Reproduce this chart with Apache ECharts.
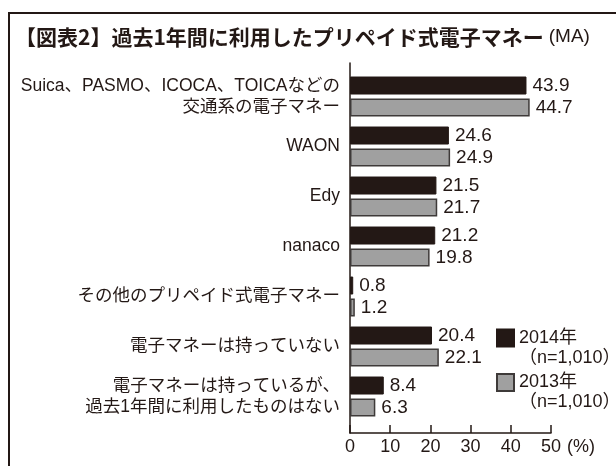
<!DOCTYPE html>
<html><head><meta charset="utf-8">
<script src="https://cdn.jsdelivr.net/npm/echarts@6/dist/echarts.min.js"></script>
<style>html,body{margin:0;padding:0;background:#fff}#c{width:616px;height:466px}</style>
</head><body><div id="c"></div>
<script>
// ---- data ----
const categories = [
  'Suica、PASMO、ICOCA、TOICAなどの\n交通系の電子マネー',
  'WAON',
  'Edy',
  'nanaco',
  'その他のプリペイド式電子マネー',
  '電子マネーは持っていない',
  '電子マネーは持っているが、\n過去1年間に利用したものはない'
];
const values2014 = [43.9, 24.6, 21.5, 21.2, 0.8, 20.4, 8.4];
const values2013 = [44.7, 24.9, 21.7, 19.8, 1.2, 22.1, 6.3];
const seriesNames = ['2014年', '2013年'];
const sampleNote = '（n=1,010）';
const xMin = 0, xMax = 50, xStep = 10;
const titleMain = '【図表2】過去1年間に利用したプリペイド式電子マネー';
const titleNote = '(MA)';
const unitLabel = '(%)';

// ---- style ----
const ink = '#231815';
const grayFill = '#a0a0a0';
const grayBorder = '#3e3a39';
const FF = '"Liberation Sans", "Noto Sans CJK JP", sans-serif';

const chart = echarts.init(document.getElementById('c'), null, {renderer: 'canvas'});

function legendFor(name, top) {
  return {
    data: [name], left: 496, top: top, orient: 'vertical', padding: 0,
    itemWidth: 17, itemHeight: 17, itemGap: 0, icon: 'rect', selectedMode: false,
    formatter: n => '\n' + n + '\n' + sampleNote,
    textStyle: {fontSize: 18, lineHeight: 20, color: ink, fontFamily: FF}
  };
}

chart.setOption({
  animation: false,
  backgroundColor: '#fff',
  title: {
    text: '{a|' + titleMain + '}{b|' + titleNote + '}',
    left: 15, top: 24, padding: 0,
    textStyle: {
      rich: {
        a: {fontSize: 21, fontWeight: 'bold', fontFamily: '"Noto Sans CJK JP", sans-serif', color: ink, lineHeight: 26},
        b: {fontSize: 19, fontWeight: 'normal', fontFamily: FF, color: ink, padding: [0, 0, 0, 5]}
      }
    }
  },
  graphic: [{
    type: 'rect', silent: true, z: -1,
    shape: {x: 9, y: 13, width: 800, height: 600},
    style: {fill: 'none', stroke: ink, lineWidth: 2}
  }],
  legend: [legendFor(seriesNames[0], 308), legendFor(seriesNames[1], 352.5)],
  grid: [
    {left: 350, top: 71.5, width: 201, height: 350},
    {left: 350, top: 63, width: 201, height: 370}
  ],
  xAxis: [
    {gridIndex: 0, type: 'value', min: xMin, max: xMax, interval: xStep, show: false},
    {
      gridIndex: 1, type: 'value', min: xMin, max: xMax, interval: xStep,
      axisLine: {show: true, onZero: false, lineStyle: {color: ink, width: 1.5}},
      axisTick: {show: true, inside: true, length: 8, lineStyle: {color: ink, width: 1.5}},
      axisLabel: {fontSize: 18, color: ink, margin: 5, fontFamily: FF},
      splitLine: {show: false},
      name: unitLabel, nameLocation: 'end', nameGap: 6,
      nameTextStyle: {fontSize: 18, color: ink, fontFamily: FF, verticalAlign: 'top', lineHeight: 20, padding: [4, 0, 0, 0]}
    }
  ],
  yAxis: [
    {
      gridIndex: 0, type: 'category', data: categories, inverse: true,
      axisLine: {show: false}, axisTick: {show: false}, splitLine: {show: false},
      axisLabel: {fontSize: 17.5, lineHeight: 21, color: ink, margin: 10, fontFamily: FF, align: 'right'}
    },
    {
      gridIndex: 1, type: 'value', min: 0, max: 1,
      axisLine: {show: true, onZero: false, lineStyle: {color: ink, width: 1.5}},
      axisTick: {show: false}, axisLabel: {show: false}, splitLine: {show: false}
    }
  ],
  series: [
    {
      type: 'bar', name: seriesNames[0], data: values2014, xAxisIndex: 0, yAxisIndex: 0,
      barWidth: 18, barGap: '22%',
      itemStyle: {color: ink, borderColor: ink, borderWidth: 1},
      label: {show: true, position: 'right', distance: 6, fontSize: 19, color: ink, fontFamily: FF,
              formatter: p => p.value.toFixed(1)}
    },
    {
      type: 'bar', name: seriesNames[1], data: values2013, xAxisIndex: 0, yAxisIndex: 0,
      barWidth: 18, barGap: '22%',
      itemStyle: {color: grayFill, borderColor: grayBorder, borderWidth: 1.5},
      label: {show: true, position: 'right', distance: 6, fontSize: 19, color: ink, fontFamily: FF,
              formatter: p => p.value.toFixed(1)}
    }
  ]
});
</script>
</body></html>
